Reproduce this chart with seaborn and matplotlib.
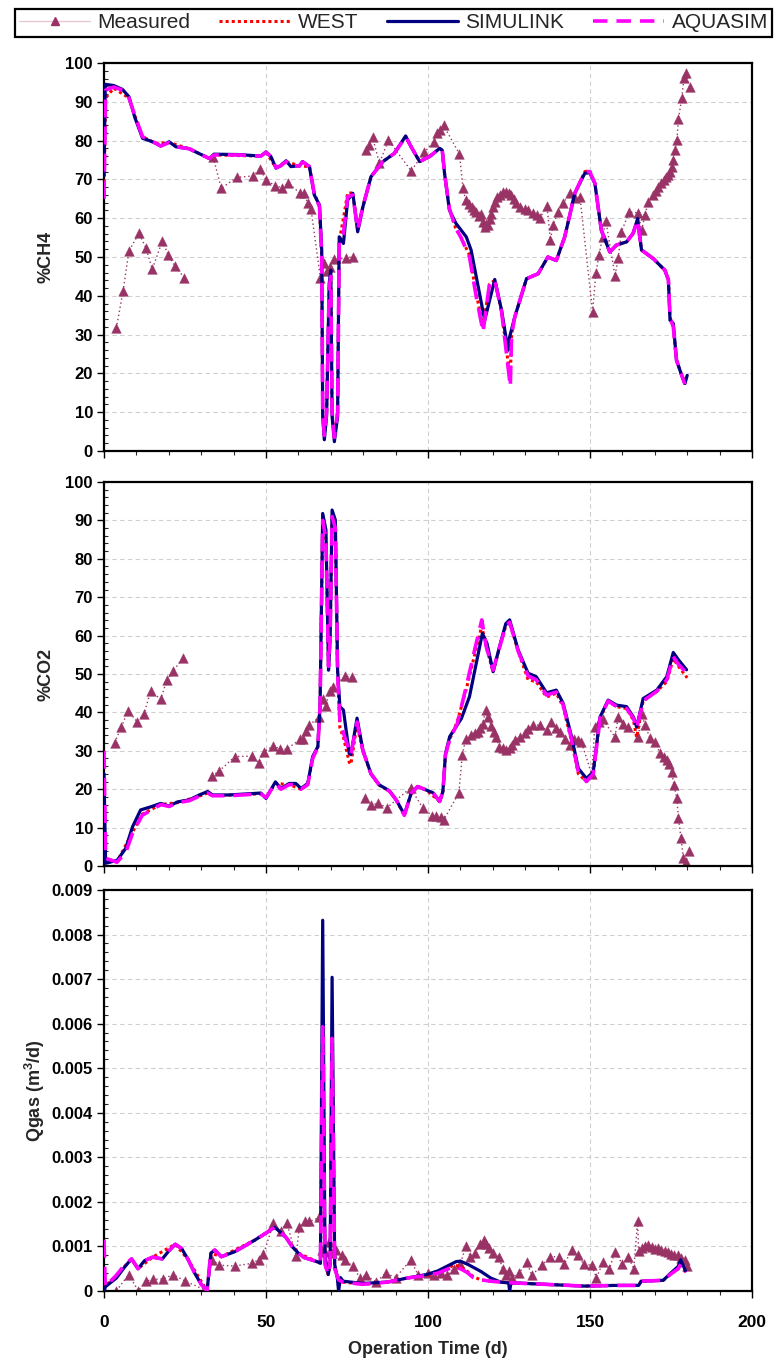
import numpy as np
import pandas as pd
import matplotlib
matplotlib.use("Agg")
import matplotlib.pyplot as plt
from matplotlib.ticker import MultipleLocator, FuncFormatter
from matplotlib.lines import Line2D
import seaborn as sns

# ---------------- data ----------------
# %CH4 -------------------------------------------------------------
ch4_meas_t = [3.8, 5.9, 7.7, 10.8, 12.9, 14.9, 18.0, 19.9, 21.9, 24.8, np.nan,
              33.7, 36.2, 40.9, 46.1, 48.1, 50.0, 52.9, 54.9, 56.9, 60.6, 61.8, 62.9, 63.9,
              66.8, 67.8, 68.7, 69.8, 70.9, 74.7, 76.8, np.nan,
              80.9, 81.7, 82.9, 85.0, 87.8, 94.8, 98.9, 101.8, 102.7, 103.8, 104.8,
              109.7, 110.8, 111.6, 112.8, 113.5, 114.2, 114.9, 115.6, 116.4, 117.0,
              117.5, 118.0, 118.5, 119.0, 119.5, 120.0, 120.6, 121.3, 122.1, 123.0,
              124.2, 125.0, 125.7, 126.5, 127.3, 128.5, 129.8, 131.0, 132.4, 133.5,
              134.5, 136.7, 137.8, 138.6, 140.1, 141.7, 143.8, 145.3, 146.9,
              150.8, 151.8, 152.8, 153.9, 154.9, 157.7, 158.7, 159.7, 162.1, 164.9,
              165.9, 167.0, 168.0, 169.5, 170.3, 171.1, 171.9, 172.7, 173.5, 174.2,
              174.8, 175.2, 175.7, 176.2, 176.8, 177.3, 178.3, 179.0, 179.6, 180.8]
ch4_meas_v = [31.6, 41.3, 51.6, 56.1, 52.4, 46.9, 54.1, 50.4, 47.7, 44.6, np.nan,
              75.7, 67.7, 70.5, 70.9, 72.7, 69.9, 68.3, 67.9, 69.0, 66.4, 66.4, 63.8, 62.3,
              44.5, 48.4, 46.5, 47.5, 49.5, 49.7, 50.1, np.nan,
              77.6, 78.9, 80.8, 74.2, 80.1, 72.2, 77.0, 79.7, 81.9, 82.7, 83.9,
              76.6, 67.7, 64.7, 63.6, 62.8, 62.0, 61.6, 60.5, 61.2, 59.0,
              57.8, 58.5, 58.2, 59.8, 61.2, 63.0, 64.3, 65.5, 66.0, 66.8,
              66.8, 66.5, 66.0, 65.0, 63.8, 63.0, 62.5, 62.0, 61.4, 60.8,
              60.0, 63.2, 54.4, 58.2, 61.6, 63.8, 66.6, 65.1, 65.5,
              35.9, 45.8, 50.5, 55.2, 59.4, 45.1, 49.7, 56.5, 61.6, 61.4,
              56.9, 60.8, 64.3, 66.0, 67.0, 68.1, 69.0, 69.8, 70.5, 71.1,
              72.0, 73.3, 75.0, 77.6, 80.1, 85.5, 90.9, 96.1, 97.3, 93.7]

ch4_sim_t = [0.0, 0.4, 3.0, 5.7, 7.7, 9.5, 11.9, 14.0, 16.0, 17.5, 20.1, 22.2, 26.3, 29.0,
             32.5, 34.0, 41.7, 48.4, 50.0, 51.5, 53.1, 54.5, 56.2, 57.7, 60.3, 61.3, 63.4,
             64.9, 66.5, 67.2, 67.5, 68.0, 68.7, 69.5, 70.0, 70.4, 71.1, 72.1, 72.6, 73.9,
             75.2, 76.8, 78.3, 79.9, 82.4, 86.1, 89.6, 93.1, 94.8, 97.4, 100.5, 103.6,
             104.4, 105.1, 106.6, 108.6, 111.8, 113.3, 114.9, 117.5, 120.6, 122.7, 124.7,
             125.2, 126.8, 130.4, 134.0, 137.0, 139.6, 142.2, 145.3, 148.4, 149.9, 151.5,
             153.5, 156.1, 158.2, 161.3, 163.3, 164.7, 165.9, 169.5, 173.1, 174.2, 174.7,
             175.7, 176.7, 178.3, 179.3, 180.0]
ch4_sim_v = [71.0, 94.5, 94.2, 93.2, 91.3, 86.0, 80.6, 80.0, 79.3, 78.6, 79.7, 78.4, 77.9, 76.8,
             75.4, 76.5, 76.4, 76.0, 77.1, 75.9, 72.9, 73.5, 74.8, 73.3, 73.5, 74.6, 73.3,
             66.0, 63.4, 51.8, 8.9, 2.9, 8.9, 43.2, 46.6, 8.9, 2.4, 8.9, 55.2, 53.5,
             64.7, 66.4, 56.5, 62.9, 70.7, 74.6, 76.7, 81.2, 78.4, 74.6, 75.9, 78.0,
             77.5, 71.6, 62.1, 58.7, 55.2, 51.8, 44.9, 33.7, 44.2, 36.3, 26.0,
             29.4, 34.6, 44.4, 45.7, 50.0, 49.1, 55.2, 66.4, 71.6, 71.7, 69.0,
             56.9, 51.3, 53.1, 53.9, 56.1, 59.9, 51.8, 49.6, 46.6, 44.1, 33.7,
             32.9, 23.4, 19.5, 17.4, 19.5]

ch4_aqua_t = [0.0, 0.5, 3.0, 5.7, 7.7, 9.5, 11.9, 14.0, 16.0, 17.5, 20.1, 22.2, 26.3, 29.0,
              32.5, 34.0, 41.7, 48.4, 50.0, 51.5, 53.1, 54.5, 56.2, 57.7, 60.3, 61.3, 63.4,
              64.9, 66.5, 67.2, 67.5, 68.0, 68.7, 69.5, 70.0, 70.4, 71.1, 72.1, 72.6, 73.9,
              75.2, 76.8, 78.3, 79.9, 82.4, 86.1, 89.6, 93.1, 94.8, 97.4, 100.5, 103.6,
              104.4, 105.1, 106.6, 108.5, 110.2, 112.8, 114.9, 117.0, 119.0, 120.6, 122.7,
              124.7, 125.4, 125.8, 126.8, 130.4, 134.0, 137.0, 139.6, 142.2, 145.3, 148.4,
              149.9, 151.5, 153.5, 156.1, 158.2, 161.3, 163.3, 164.7, 165.9, 169.5, 173.1,
              174.2, 174.7, 175.7, 176.7, 178.3, 179.3]
ch4_aqua_v = [65.0, 93.0, 93.8, 93.0, 91.0, 86.5, 81.0, 80.2, 79.3, 78.6, 79.5, 78.4, 77.9, 76.8,
              75.4, 76.3, 76.3, 76.0, 77.0, 75.9, 73.0, 73.5, 74.6, 73.3, 73.5, 74.5, 73.3,
              66.5, 63.0, 50.0, 10.0, 4.0, 10.0, 42.0, 45.0, 10.0, 3.5, 10.0, 54.0, 56.0,
              65.5, 66.0, 57.0, 63.0, 70.7, 74.6, 76.7, 81.0, 78.4, 74.6, 75.9, 78.0,
              77.5, 71.6, 62.5, 57.5, 55.0, 50.0, 39.7, 30.7, 43.2, 44.0, 36.0,
              21.7, 16.6, 30.0, 34.6, 44.4, 45.7, 50.0, 49.1, 55.2, 66.4, 72.0,
              72.0, 69.0, 56.9, 51.3, 53.1, 53.9, 56.1, 59.5, 51.8, 49.6, 46.6,
              44.1, 34.5, 32.0, 23.4, 19.5, 17.2]

ch4_west_t = [0.0, 0.5, 3.0, 7.7, 9.5, 11.9, 16.0, 20.1, 26.3, 32.5, 34.0, 48.4, 50.0, 53.1,
              56.2, 60.3, 63.4, 64.9, 66.5, 67.2, 67.5, 68.0, 68.7, 69.5, 70.0, 70.4, 71.1,
              72.1, 72.6, 73.9, 75.2, 76.8, 78.3, 79.9, 82.4, 86.1, 89.6, 93.1, 94.8, 97.4,
              100.5, 103.6, 104.4, 105.1, 106.6, 108.5, 110.2, 112.8, 114.9, 117.0, 119.0,
              120.6, 122.7, 124.7, 125.4, 125.8, 126.8, 130.4, 134.0, 137.0, 139.6, 142.2,
              145.3, 148.4, 149.9, 151.5, 153.5, 156.1, 158.2, 161.3, 163.3, 164.7, 165.9,
              169.5, 173.1, 174.2, 174.7, 175.7, 176.7, 178.3, 179.5]
ch4_west_v = [66.0, 91.0, 93.5, 91.0, 86.5, 81.0, 79.3, 79.5, 77.9, 75.4, 76.3, 76.0, 77.0, 73.0,
              74.6, 73.5, 73.3, 66.5, 63.0, 50.0, 10.0, 4.0, 10.0, 42.0, 45.0, 10.0, 3.5,
              10.0, 54.0, 60.0, 66.5, 66.5, 57.0, 63.0, 70.7, 74.6, 76.7, 81.0, 78.4, 74.6,
              75.9, 78.0, 77.5, 71.6, 62.5, 57.5, 55.0, 50.5, 40.5, 32.0, 43.0, 44.0, 36.0,
              23.0, 19.0, 30.0, 34.6, 44.4, 45.7, 50.0, 49.1, 55.2, 66.4, 72.0,
              72.3, 69.0, 56.9, 51.3, 53.1, 53.9, 56.1, 59.5, 51.8, 49.6, 46.6,
              44.1, 34.5, 32.0, 23.4, 19.5, 17.5]

# %CO2 -------------------------------------------------------------
co2_meas_t = [3.3, 5.4, 7.4, 10.3, 12.4, 14.4, 17.5, 19.4, 21.3, 24.4, np.nan,
              33.3, 35.5, 40.4, 45.6, 47.7, 49.5, 52.3, 54.4, 56.4, 60.5, 61.5, 62.4, 63.4,
              66.5, 67.5, 68.5, 69.6, 70.6, 74.5, 76.6, np.nan,
              80.5, 82.5, 84.6, 87.4, 94.6, 98.4, 101.3, 102.5, 104.1, 104.8,
              109.5, 110.6, 111.6, 113.3, 114.5, 115.4, 116.2, 116.9, 117.8, 118.5,
              119.5, 120.3, 121.1, 121.9, 123.0, 124.2, 125.2, 126.0, 126.8, 128.3,
              129.8, 131.0, 132.4, 134.5, 136.6, 138.1, 139.5, 140.7, 142.3, 143.8,
              145.0, 146.4, 147.3, 150.5, 151.5, 152.7, 153.9, 157.7, 158.7, 160.2,
              161.8, 164.9, 165.9, 167.0, 168.5, 170.1, 171.6, 172.7, 173.7, 174.5,
              175.2, 175.9, 176.8, 177.3, 178.1, 178.8, 179.6, 180.6]
co2_meas_v = [32.1, 36.3, 40.4, 37.5, 39.7, 45.6, 43.4, 48.4, 50.7, 54.2, np.nan,
              23.4, 24.7, 28.5, 28.6, 26.9, 29.8, 31.3, 30.4, 30.4, 33.0, 33.0, 35.2, 36.7,
              38.9, 43.6, 41.6, 45.6, 46.7, 49.4, 49.1, np.nan,
              17.6, 15.9, 16.3, 15.2, 20.3, 15.1, 13.1, 12.9, 12.7, 11.9,
              19.0, 28.9, 33.0, 34.1, 34.6, 35.0, 36.0, 37.1, 40.6, 38.8,
              36.5, 35.0, 33.7, 31.1, 30.8, 30.2, 30.7, 31.5, 32.8, 33.6,
              34.7, 35.8, 36.7, 36.7, 35.4, 37.5, 36.0, 34.9, 33.0, 31.5,
              33.0, 32.8, 32.4, 24.0, 36.3, 37.5, 38.2, 33.6, 38.8, 37.0,
              36.3, 33.6, 39.7, 36.7, 33.3, 32.4, 29.3, 28.5, 27.6, 26.5,
              24.6, 21.1, 17.6, 12.4, 7.2, 2.0, 1.1, 4.0]

co2_sim_t = [0.0, 0.5, 4.1, 6.7, 8.8, 11.3, 14.4, 17.5, 20.1, 22.7, 26.3, 29.4, 32.0, 33.5,
             38.6, 48.4, 50.0, 52.9, 54.6, 57.2, 59.2, 60.8, 62.9, 64.4, 66.0, 66.7, 67.5,
             68.5, 69.3, 69.8, 70.4, 71.4, 72.1, 72.8, 73.9, 75.7, 76.2, 78.1, 79.9, 82.4,
             85.0, 88.1, 90.2, 92.7, 94.8, 96.8, 99.4, 101.5, 103.6, 104.6, 105.4, 106.7,
             110.3, 112.8, 114.9, 116.8, 118.2, 120.1, 122.1, 124.0, 125.2, 127.8, 130.9,
             133.4, 136.6, 139.6, 141.7, 144.3, 146.4, 148.9, 151.0, 153.1, 155.6, 158.2,
             161.3, 163.4, 164.4, 166.4, 170.6, 173.7, 175.7, 177.3, 179.8]
co2_sim_v = [24.0, 0.7, 1.5, 4.6, 10.2, 14.6, 15.4, 16.3, 15.6, 16.7, 17.2, 18.5, 19.4, 18.5,
             18.5, 19.0, 17.6, 21.9, 20.2, 21.5, 21.5, 20.2, 21.5, 28.5, 31.1, 42.4, 91.8,
             87.5, 51.0, 59.7, 92.7, 90.1, 51.0, 41.5, 40.6, 29.3, 29.0, 38.5, 30.2, 24.0,
             21.1, 19.6, 17.2, 13.4, 18.9, 20.7, 19.8, 19.1, 16.8, 19.4, 29.3, 33.7,
             38.4, 44.1, 52.8, 60.6, 58.0, 50.6, 57.2, 63.1, 64.1, 56.3, 50.2,
             49.3, 45.1, 45.8, 42.4, 33.7, 25.4, 22.8, 24.5, 38.8, 43.2, 41.9,
             41.5, 38.8, 36.2, 43.6, 45.8, 49.3, 55.6, 53.7, 51.1]

co2_aqua_t = [0.0, 0.5, 4.0, 6.7, 8.8, 11.8, 14.4, 17.5, 20.1, 22.7, 26.3, 29.4, 32.0, 33.5,
              38.6, 48.4, 50.0, 52.9, 54.6, 57.2, 59.2, 60.8, 62.9, 64.4, 66.0, 66.7, 67.5,
              68.5, 69.3, 69.8, 70.4, 71.4, 72.1, 72.8, 73.9, 75.7, 76.2, 78.1, 79.9, 82.4,
              85.0, 88.1, 90.2, 92.7, 94.8, 96.8, 99.4, 101.5, 103.6, 104.6, 105.4, 106.7,
              109.0, 111.8, 114.4, 116.6, 118.0, 120.1, 122.1, 124.0, 125.2, 127.8, 130.9,
              133.4, 136.6, 139.6, 141.7, 144.3, 146.4, 148.9, 151.0, 153.1, 155.6, 158.2,
              161.3, 163.4, 164.4, 166.4, 170.6, 173.7, 175.7, 177.3, 179.8]
co2_aqua_v = [30.0, 2.0, 1.0, 3.5, 8.5, 13.2, 14.5, 16.0, 15.5, 16.5, 17.0, 18.2, 19.0, 18.3,
              18.3, 18.8, 17.8, 21.5, 20.0, 21.2, 21.2, 20.0, 21.2, 28.0, 31.0, 42.0, 90.0,
              85.0, 52.0, 60.0, 91.0, 88.0, 50.0, 38.0, 34.6, 30.0, 29.0, 37.5, 30.0, 24.0,
              21.0, 19.5, 17.2, 13.2, 18.9, 20.7, 19.8, 19.1, 16.8, 19.4, 29.0, 33.0,
              37.0, 46.7, 56.3, 64.1, 57.0, 51.0, 57.0, 62.5, 63.5, 56.0, 49.5,
              48.5, 44.5, 45.3, 42.0, 33.0, 24.5, 22.0, 24.0, 38.5, 43.0, 41.5,
              41.0, 38.5, 35.8, 43.0, 45.5, 48.5, 54.5, 52.5, 50.3]

co2_west_t = [0.0, 0.5, 4.0, 8.8, 11.8, 17.5, 22.7, 29.4, 32.0, 33.5, 48.4, 50.0, 52.9, 57.2,
              60.8, 62.9, 64.4, 66.0, 66.7, 67.5, 68.5, 69.3, 69.8, 70.4, 71.4, 72.1, 72.8,
              73.9, 75.7, 76.2, 78.1, 79.9, 82.4, 85.0, 88.1, 90.2, 92.7, 94.8, 96.8, 99.4,
              103.6, 104.6, 105.4, 106.7, 109.0, 111.8, 114.4, 116.6, 118.0, 120.1, 122.1,
              124.0, 125.2, 127.8, 130.9, 133.4, 136.6, 139.6, 141.7, 144.3, 146.4, 148.9,
              151.0, 153.1, 155.6, 158.2, 161.3, 163.4, 164.4, 166.4, 170.6, 173.7, 175.7,
              177.3, 180.0]
co2_west_v = [4.0, 2.0, 1.0, 8.8, 13.5, 16.0, 16.5, 18.2, 19.0, 18.3, 18.8, 17.8, 21.5, 21.2,
              20.0, 21.2, 28.0, 31.0, 42.0, 90.0, 85.0, 52.0, 60.0, 91.0, 88.0, 50.0, 36.0,
              33.5, 27.0, 26.5, 37.0, 30.0, 24.0, 21.0, 19.5, 17.2, 13.2, 18.9, 20.7, 19.8,
              16.8, 19.4, 29.0, 33.0, 37.5, 46.0, 55.0, 62.5, 57.0, 50.5, 57.0, 62.5,
              63.5, 56.0, 48.5, 48.0, 44.0, 45.0, 41.5, 32.5, 24.0, 22.0, 24.0, 38.5,
              43.0, 41.5, 41.0, 38.0, 33.5, 43.0, 45.5, 48.0, 54.0, 52.0, 49.0]

# Qgas, litres per day ---------------------------------------------
q_meas_t = [0.0, 3.8, 7.6, 10.6, 12.9, 15.2, 18.3, 21.3, 25.1, 31.9,
            33.3, 35.5, 40.3, 45.6, 47.7, 49.2, 52.3, 54.5, 56.4, 59.3, 60.3, 62.1, 63.4,
            66.5, 67.3, 68.3, 69.3, 70.4, 71.6, 73.6, 74.5, 76.7, 79.0, 81.0, 84.0, 87.0,
            90.0, 94.7, 97.0, 100.0, 102.0, 104.0, 106.0, 108.0, 110.0, 111.6, 113.1,
            114.5, 116.0, 117.3, 118.0, 118.8, 120.0, 121.9, 123.0, 124.0, 125.0, 126.0,
            128.0, 130.6, 132.0, 135.2, 137.7, 140.3, 142.0, 144.4, 146.4, 148.0, 150.5,
            152.0, 154.1, 156.0, 157.7, 160.0, 161.8, 163.5, 164.7, 165.0, 166.0, 167.0,
            168.0, 169.0, 170.0, 171.1, 172.0, 173.0, 174.2, 175.0, 176.0, 177.2, 178.0,
            179.3, 180.0]
q_meas_l = [0.0, 0.0, 0.37, 0.0, 0.22, 0.26, 0.27, 0.37, 0.22, 0.0,
            0.70, 0.58, 0.56, 0.62, 0.70, 0.82, 1.52, 1.35, 1.53, 0.79, 1.44, 1.56, 1.56,
            1.65, 0.92, 0.88, 1.10, 0.85, 0.92, 0.81, 0.70, 0.55, 0.30, 0.35, 0.20, 0.40,
            0.30, 0.70, 0.35, 0.40, 0.35, 0.40, 0.35, 0.50, 0.60, 1.00, 0.77,
            0.85, 1.05, 1.14, 1.05, 0.96, 0.85, 0.77, 0.50, 0.35, 0.45, 0.30,
            0.40, 0.64, 0.35, 0.58, 0.77, 0.77, 0.60, 0.92, 0.81, 0.60, 0.58,
            0.30, 0.66, 0.50, 0.88, 0.60, 0.77, 0.50, 1.56, 0.90, 0.96, 1.02,
            1.03, 0.98, 0.95, 0.96, 0.92, 0.90, 0.88, 0.84, 0.80, 0.81, 0.75,
            0.70, 0.55]

q_sim_t = [0.0, 0.5, 3.8, 6.5, 8.5, 10.5, 12.5, 15.0, 18.0, 20.0, 22.0, 24.0, 26.0, 28.0,
           30.0, 31.8, 33.0, 34.2, 36.2, 40.3, 46.5, 50.0, 52.6, 54.0, 56.2, 58.0, 60.0,
           61.8, 65.7, 66.8, 67.5, 68.2, 69.2, 69.8, 70.4, 71.2, 72.0, 72.4, 73.0, 73.8,
           79.8, 87.5, 93.5, 99.6, 103.0, 105.7, 108.7, 110.0, 112.5, 116.3, 119.4, 122.4,
           124.9, 125.2, 125.6, 127.0, 136.0, 148.3, 157.4, 165.0, 165.8, 172.6, 174.9,
           177.2, 178.0, 179.5]
q_sim_l = [0.0, 0.1, 0.29, 0.55, 0.72, 0.50, 0.68, 0.76, 0.72, 0.90, 1.05, 0.95, 0.70, 0.40,
           0.15, 0.0, 0.85, 0.92, 0.77, 0.88, 1.14, 1.30, 1.43, 1.35, 1.20, 1.00, 0.85,
           0.75, 0.66, 0.62, 8.32, 0.80, 0.37, 0.60, 7.04, 0.60, 0.30, 0.0, 0.30, 0.22,
           0.17, 0.20, 0.29, 0.37, 0.45, 0.55, 0.66, 0.67, 0.59, 0.44, 0.29, 0.20,
           0.18, 0.0, 0.18, 0.18, 0.15, 0.11, 0.125, 0.125, 0.22, 0.24, 0.40,
           0.55, 0.70, 0.45]

q_aqua_t = [0.0, 0.4, 3.8, 6.5, 8.5, 10.5, 12.5, 15.0, 18.0, 20.0, 22.0, 24.0, 26.0, 28.0,
            30.0, 31.8, 33.0, 34.2, 36.2, 40.3, 46.5, 50.0, 52.6, 54.0, 56.2, 58.0, 60.0,
            61.8, 65.7, 66.8, 67.5, 68.2, 69.2, 69.8, 70.4, 71.2, 72.4, 73.8, 79.8, 87.5,
            93.5, 99.6, 103.0, 105.7, 108.0, 110.0, 112.0, 114.0, 116.3, 119.4, 122.4,
            127.0, 136.0, 148.3, 157.4, 165.0, 165.8, 172.6, 174.9, 177.2, 178.0, 179.5]
q_aqua_l = [1.15, 0.10, 0.35, 0.60, 0.72, 0.50, 0.68, 0.76, 0.72, 0.90, 1.05, 0.95, 0.70, 0.40,
            0.15, 0.0, 0.85, 0.92, 0.77, 0.88, 1.14, 1.30, 1.43, 1.35, 1.20, 1.00, 0.85,
            0.75, 0.66, 0.62, 5.93, 0.60, 0.37, 0.60, 5.67, 0.50, 0.25, 0.20, 0.15, 0.20,
            0.29, 0.35, 0.40, 0.48, 0.55, 0.50, 0.42, 0.30, 0.25, 0.22, 0.20,
            0.18, 0.15, 0.11, 0.125, 0.125, 0.22, 0.24, 0.38, 0.50, 0.60, 0.42]

q_west_t = [0.0, 0.4, 3.8, 8.5, 10.5, 15.0, 22.0, 26.0, 31.8, 33.0, 36.2, 46.5, 52.6, 56.2,
            60.0, 65.7, 66.8, 67.5, 68.2, 69.2, 69.8, 70.4, 71.2, 72.4, 73.8, 79.8, 87.5,
            93.5, 99.6, 103.0, 105.7, 108.0, 110.0, 112.0, 114.0, 116.3, 119.4, 122.4,
            127.0, 136.0, 148.3, 157.4, 165.0, 165.8, 172.6, 174.9, 177.2, 178.0, 179.5]
q_west_l = [0.30, 0.10, 0.35, 0.72, 0.50, 0.76, 1.05, 0.70, 0.0, 0.85, 0.77, 1.14, 1.43, 1.20,
            0.85, 0.66, 0.62, 5.80, 0.60, 0.37, 0.60, 5.50, 0.50, 0.25, 0.20, 0.15, 0.20,
            0.29, 0.35, 0.40, 0.50, 0.58, 0.55, 0.45, 0.32, 0.25, 0.22, 0.20,
            0.18, 0.15, 0.11, 0.125, 0.125, 0.22, 0.24, 0.38, 0.50, 0.60, 0.42]

series_labels = ["Measured", "WEST", "SIMULINK", "AQUASIM"]

# ---------------- style ----------------
MEAS_C = "#993366"
WEST_C = "#FF0000"
SIM_C = "#000080"
AQUA_C = "#FF00FF"

sns.set_theme(style="white")
plt.rcParams["font.family"] = ["Liberation Sans", "DejaVu Sans"]
plt.rcParams["font.weight"] = "bold"
plt.rcParams["axes.labelweight"] = "bold"
plt.rcParams["mathtext.default"] = "regular"

fig = plt.figure(figsize=(7.78, 13.63), dpi=100)
W, H = 778.0, 1363.0


def make_axes(top_px, bottom_px):
    left, right = 104.0, 752.0
    return fig.add_axes([left / W, 1 - bottom_px / H, (right - left) / W, (bottom_px - top_px) / H])


def draw_measured(ax, t, v):
    df = pd.DataFrame({"t": t, "v": v})
    seg_id = df["v"].isna().cumsum()
    for _, seg in df.dropna().groupby(seg_id[df["v"].notna()]):
        sns.lineplot(data=seg, x="t", y="v", ax=ax, color=MEAS_C, lw=1.0,
                     linestyle=(0, (1, 2)), sort=False, estimator=None, legend=False, zorder=2)
    pts = df.dropna()
    sns.scatterplot(data=pts, x="t", y="v", ax=ax, marker="^", s=48, color=MEAS_C,
                    edgecolor=MEAS_C, linewidth=0.3, legend=False, zorder=2.5)


def draw_model(ax, t, v, color, lw, ls, z):
    df = pd.DataFrame({"t": t, "v": v})
    sns.lineplot(data=df, x="t", y="v", ax=ax, color=color, lw=lw, linestyle=ls,
                 sort=False, estimator=None, legend=False, zorder=z)


def style_axes(ax, ymax, ymajor, yminor, show_x, ylab_x):
    ax.set_xlim(0, 200)
    ax.set_ylim(0, ymax)
    ax.xaxis.set_major_locator(MultipleLocator(50))
    ax.xaxis.set_minor_locator(MultipleLocator(10))
    ax.yaxis.set_major_locator(MultipleLocator(ymajor))
    ax.yaxis.set_minor_locator(MultipleLocator(yminor))
    ax.grid(True, which="major", color="#cfcfcf", linestyle=(0, (4, 3)), lw=0.8)
    ax.set_axisbelow(True)
    for sp in ax.spines.values():
        sp.set_visible(True)
        sp.set_color("black")
        sp.set_linewidth(1.6)
    ax.tick_params(axis="both", which="major", direction="out", length=5, width=1,
                   colors="black", labelsize=12, left=True, bottom=True, pad=3)
    ax.tick_params(axis="y", which="minor", direction="in", length=3, width=0.8, left=True)
    ax.tick_params(axis="x", which="minor", direction="out", length=3, width=0.8, bottom=True)
    ax.tick_params(axis="x", labelbottom=show_x)
    ax.set_xlabel("")
    ax.yaxis.set_label_coords(ylab_x, 0.5)


# --- %CH4
ax1 = make_axes(63, 451)
draw_measured(ax1, ch4_meas_t, ch4_meas_v)
draw_model(ax1, ch4_west_t, ch4_west_v, WEST_C, 2.2, (0, (1, 1)), 3)
draw_model(ax1, ch4_sim_t, ch4_sim_v, SIM_C, 2.3, "-", 4)
draw_model(ax1, ch4_aqua_t, ch4_aqua_v, AQUA_C, 2.6, (0, (5, 2.5)), 5)
style_axes(ax1, 100, 10, 2, False, -0.077)
ax1.set_ylabel("%CH4", fontsize=13)

# --- %CO2
ax2 = make_axes(482, 866)
draw_measured(ax2, co2_meas_t, co2_meas_v)
draw_model(ax2, co2_west_t, co2_west_v, WEST_C, 2.2, (0, (1, 1)), 3)
draw_model(ax2, co2_sim_t, co2_sim_v, SIM_C, 2.3, "-", 4)
draw_model(ax2, co2_aqua_t, co2_aqua_v, AQUA_C, 2.6, (0, (5, 2.5)), 5)
style_axes(ax2, 100, 10, 2, False, -0.077)
ax2.set_ylabel("%CO2", fontsize=13)

# --- Qgas (litres/day converted to m3/day)
ax3 = make_axes(890, 1291)
draw_measured(ax3, q_meas_t, np.array(q_meas_l) / 1000.0)
draw_model(ax3, q_west_t, np.array(q_west_l) / 1000.0, WEST_C, 2.2, (0, (1, 1)), 3)
draw_model(ax3, q_sim_t, np.array(q_sim_l) / 1000.0, SIM_C, 2.3, "-", 4)
draw_model(ax3, q_aqua_t, np.array(q_aqua_l) / 1000.0, AQUA_C, 2.6, (0, (5, 2.5)), 5)
style_axes(ax3, 0.009, 0.001, 0.0002, True, -0.088)
ax3.yaxis.set_major_formatter(FuncFormatter(lambda y, _: "0" if abs(y) < 1e-12 else f"{y:.3f}"))
ax3.xaxis.set_major_formatter(FuncFormatter(lambda x, _: f"{x:.0f}"))
ax3.tick_params(axis="x", which="major", pad=12, labelsize=12.5)
ax3.set_ylabel("Qgas (m$^3$/d)", fontsize=13)
ax3.set_xlabel("Operation Time (d)", fontsize=13)
ax3.xaxis.set_label_coords(0.5, -0.125)

# --- legend across the top
handles = [
    Line2D([], [], color="#e6c8d8", lw=1.0, marker="^", markersize=6,
           markerfacecolor=MEAS_C, markeredgecolor=MEAS_C),
    Line2D([], [], color=WEST_C, lw=2.2, linestyle=(0, (1, 1))),
    Line2D([], [], color=SIM_C, lw=2.3),
    Line2D([], [], color=AQUA_C, lw=2.6, linestyle=(0, (4, 2.5))),
]
leg = fig.legend(handles, series_labels, loc="center left", ncol=4, mode="expand",
                 bbox_to_anchor=(15 / W, 1 - 38 / H, 757 / W, 30 / H),
                 frameon=True, fancybox=False, edgecolor="black", framealpha=1,
                 prop={"weight": "normal", "size": 15}, handlelength=3.4,
                 handletextpad=0.35, borderpad=0.2, borderaxespad=0, numpoints=1)
leg.get_frame().set_linewidth(1.6)

fig.savefig("out.png", dpi=100, facecolor="white")
